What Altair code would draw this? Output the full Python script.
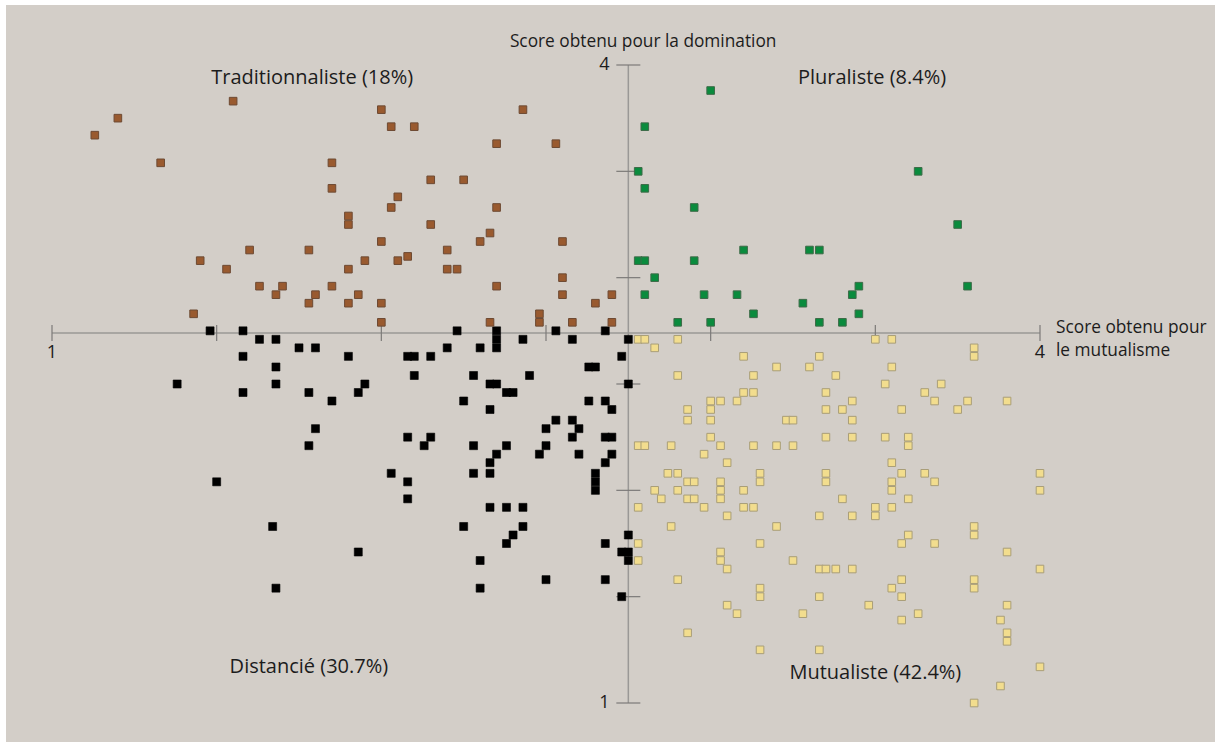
import altair as alt
import pandas as pd

# Scores (mutualisme, domination) per respondent, grouped by profile
trad_x = [1.55, 1.20, 1.13, 2.00, 2.03, 2.10, 1.33, 1.85, 1.85, 2.05, 2.03, 1.90, 1.90, 2.00,
          1.60, 1.78, 1.45, 1.95, 2.05, 2.08, 1.53, 1.90, 1.63, 1.70, 1.85, 1.68, 1.80, 1.93,
          1.78, 1.90, 2.00, 1.43, 2.00, 2.43, 2.35, 2.53, 2.15, 2.25, 2.35, 2.15, 2.33, 2.30,
          2.55, 2.20, 2.20, 2.23, 2.55, 2.35, 2.55, 2.70, 2.65, 2.48, 2.48, 2.33, 2.58, 2.70]
trad_y = [3.83, 3.75, 3.67, 3.79, 3.71, 3.71, 3.54, 3.54, 3.42, 3.38, 3.33, 3.29, 3.25, 3.17,
          3.13, 3.13, 3.08, 3.08, 3.08, 3.10, 3.04, 3.04, 2.96, 2.96, 2.96, 2.92, 2.92, 2.92,
          2.88, 2.88, 2.88, 2.83, 2.79, 3.79, 3.63, 3.63, 3.46, 3.46, 3.33, 3.25, 3.21, 3.17,
          3.17, 3.13, 3.04, 3.04, 3.00, 2.96, 2.92, 2.92, 2.88, 2.83, 2.79, 2.79, 2.79, 2.79]

plur_x = [3.00, 2.80, 2.78, 2.80, 2.95, 3.10, 3.30, 3.33, 2.78, 2.80, 2.95, 2.83, 2.80, 2.98,
          3.08, 3.28, 3.13, 2.90, 3.00, 3.33, 3.63, 3.75, 3.45, 3.43, 3.78, 3.45, 3.40]
plur_y = [3.88, 3.71, 3.50, 3.42, 3.33, 3.13, 3.13, 3.13, 3.08, 3.08, 3.08, 3.00, 2.92, 2.92,
          2.92, 2.88, 2.83, 2.79, 2.79, 2.79, 3.50, 3.25, 2.96, 2.92, 2.96, 2.83, 2.79]

dist_x = [1.48, 1.58, 1.63, 1.68, 1.75, 1.80, 1.58, 1.90, 2.08, 2.10, 1.68, 2.10, 1.38, 1.68,
          1.95, 1.58, 1.78, 1.93, 1.85, 1.80, 1.78, 2.08, 2.03, 2.08, 2.08, 1.50, 1.67, 1.93,
          1.68, 2.23, 2.35, 2.35, 2.35, 2.53, 2.68, 2.43, 2.58, 2.75, 2.20, 2.30, 2.15, 2.73,
          2.63, 2.65, 2.28, 2.45, 2.33, 2.35, 2.75, 2.38, 2.40, 2.25, 2.63, 2.68, 2.33, 2.70,
          2.53, 2.58, 2.50, 2.60, 2.15, 2.58, 2.68, 2.70, 2.13, 2.28, 2.38, 2.50, 2.35, 2.48,
          2.60, 2.70, 2.33, 2.68, 2.28, 2.33, 2.65, 2.65, 2.65, 2.33, 2.38, 2.43, 2.25, 2.43,
          2.75, 2.40, 2.38, 2.68, 2.73, 2.75, 2.75, 2.30, 2.50, 2.68, 2.30, 2.73]
dist_y = [2.75, 2.75, 2.71, 2.71, 2.67, 2.67, 2.63, 2.63, 2.63, 2.63, 2.58, 2.54, 2.50, 2.50,
          2.50, 2.46, 2.46, 2.46, 2.42, 2.29, 2.21, 2.25, 2.08, 2.04, 1.96, 2.04, 1.83, 1.71,
          1.54, 2.75, 2.75, 2.71, 2.67, 2.75, 2.75, 2.71, 2.71, 2.71, 2.67, 2.67, 2.63, 2.63,
          2.58, 2.58, 2.54, 2.54, 2.50, 2.50, 2.50, 2.46, 2.46, 2.42, 2.42, 2.42, 2.38, 2.38,
          2.33, 2.33, 2.29, 2.29, 2.25, 2.25, 2.25, 2.25, 2.21, 2.21, 2.21, 2.21, 2.17, 2.17,
          2.17, 2.17, 2.13, 2.13, 2.08, 2.08, 2.08, 2.04, 2.00, 1.92, 1.92, 1.92, 1.83, 1.83,
          1.79, 1.79, 1.75, 1.75, 1.71, 1.71, 1.67, 1.67, 1.58, 1.58, 1.54, 1.50]

mutu_x = [2.78, 2.80, 2.90, 2.83, 3.10, 3.33, 3.20, 3.30, 2.90, 3.13, 3.10, 3.13, 3.00, 3.03,
          3.08, 2.93, 3.00, 2.93, 3.00, 3.23, 3.25, 3.00, 2.78, 2.80, 2.88, 3.03, 3.13, 3.20,
          3.25, 2.98, 3.05, 2.87, 2.90, 3.15, 3.15, 2.93, 2.95, 3.03, 2.83, 2.90, 3.03, 3.10,
          2.85, 2.93, 2.95, 3.03, 2.78, 2.98, 3.10, 3.13, 3.05, 3.33, 2.88, 3.20, 2.78, 3.15,
          3.03, 3.03, 2.78, 3.25, 3.05, 3.33, 2.90, 3.15, 3.15, 3.33, 3.05, 3.08, 3.28, 2.93,
          3.15, 3.33, 3.50, 3.55, 3.80, 3.80, 3.55, 3.38, 3.53, 3.70, 3.35, 3.65, 3.43, 3.68,
          3.78, 3.90, 3.35, 3.40, 3.58, 3.75, 3.43, 3.35, 3.43, 3.53, 3.60, 3.60, 3.55, 3.35,
          3.35, 3.58, 3.65, 3.68, 3.55, 3.55, 4.00, 4.00, 3.40, 3.60, 3.50, 3.50, 3.55, 3.43,
          3.80, 3.80, 3.60, 3.58, 3.68, 3.90, 3.35, 3.38, 3.43, 4.00, 3.58, 3.80, 3.80, 3.55,
          3.58, 3.48, 3.90, 3.63, 3.58, 3.88, 3.90, 3.90, 4.00, 3.88, 3.80]
mutu_y = [2.71, 2.71, 2.71, 2.67, 2.63, 2.63, 2.58, 2.58, 2.54, 2.54, 2.46, 2.46, 2.42, 2.42,
          2.42, 2.38, 2.38, 2.33, 2.33, 2.33, 2.33, 2.25, 2.21, 2.21, 2.21, 2.21, 2.21, 2.21,
          2.21, 2.17, 2.13, 2.08, 2.08, 2.08, 2.04, 2.04, 2.04, 2.04, 2.00, 2.00, 2.00, 2.00,
          1.96, 1.96, 1.96, 1.96, 1.92, 1.92, 1.92, 1.92, 1.88, 1.88, 1.83, 1.83, 1.75, 1.75,
          1.71, 1.67, 1.67, 1.67, 1.63, 1.63, 1.58, 1.54, 1.50, 1.50, 1.46, 1.42, 1.42, 1.33,
          1.25, 1.25, 2.71, 2.71, 2.67, 2.63, 2.58, 2.54, 2.50, 2.50, 2.46, 2.46, 2.42, 2.42,
          2.42, 2.42, 2.38, 2.38, 2.38, 2.38, 2.33, 2.25, 2.25, 2.25, 2.25, 2.21, 2.13, 2.08,
          2.04, 2.08, 2.08, 2.04, 2.04, 2.00, 2.08, 2.00, 1.96, 1.96, 1.92, 1.88, 1.92, 1.88,
          1.83, 1.79, 1.79, 1.75, 1.75, 1.71, 1.63, 1.63, 1.63, 1.63, 1.58, 1.58, 1.54, 1.54,
          1.50, 1.46, 1.46, 1.42, 1.39, 1.39, 1.33, 1.29, 1.17, 1.08, 1.00]

# Profile labels with their share of respondents
profile_names = ["Traditionnaliste (18%)", "Pluraliste (8.4%)",
                 "Distancié (30.7%)", "Mutualiste (42.4%)"]
profile_label_x = [1.79, 3.49, 1.78, 3.50]
profile_label_y = [3.94, 3.94, 1.17, 1.14]

# Axis geometry
axis_min, axis_max = 1, 4
cross_x, cross_y = 2.75, 2.74
tick_values = [1, 1.5, 2, 2.5, 3, 3.5, 4]

FONT = "Open Sans"
BG = "#d3cec8"
INK = "#1c1c1c"
AXIS_GREY = "#9a9896"
TICK_GREY = "#7c7a78"

xs = alt.Scale(domain=[axis_min, axis_max], nice=False, zero=False)
ys = alt.Scale(domain=[axis_min, axis_max], nice=False, zero=False)


def X(field):
    return alt.X(f"{field}:Q", scale=xs, axis=None)


def Y(field):
    return alt.Y(f"{field}:Q", scale=ys, axis=None)


W, H = 988, 638
PAD = {"left": 52, "top": 65, "right": 175, "bottom": 39}

# Beige panel behind everything (leaves a thin white margin top and left)
panel = alt.Chart(pd.DataFrame({"k": [0]})).mark_rect(color=BG).encode(
    x=alt.value(6 - PAD["left"]), x2=alt.value(W + PAD["right"]),
    y=alt.value(5 - PAD["top"]), y2=alt.value(H + PAD["bottom"]),
)

# Crossed axes
h_axis = alt.Chart(pd.DataFrame({"a": [axis_min], "b": [axis_max], "c": [cross_y]})).mark_rule(
    color=AXIS_GREY, strokeWidth=1.5).encode(x=X("a"), x2="b", y=Y("c"))
v_axis = alt.Chart(pd.DataFrame({"a": [cross_x], "b": [axis_min], "c": [axis_max]})).mark_rule(
    color=AXIS_GREY, strokeWidth=1.5).encode(x=X("a"), y=Y("b"), y2="c")

ticks_df = pd.DataFrame({"v": tick_values, "cx": cross_x, "cy": cross_y})
x_ticks = alt.Chart(ticks_df).mark_tick(
    orient="vertical", size=16, thickness=1.2, color=TICK_GREY, opacity=1).encode(
    x=X("v"), y=Y("cy"))
y_ticks = alt.Chart(ticks_df).mark_tick(
    orient="horizontal", size=24, thickness=1.2, color=TICK_GREY, opacity=1).encode(
    x=X("cx"), y=Y("v"))

# End labels of the axes
end_df = pd.DataFrame({"v": [axis_min, axis_max], "t": [str(axis_min), str(axis_max)],
                       "cx": cross_x, "cy": cross_y})
x_end = alt.Chart(end_df).mark_text(font=FONT, fontSize=18, color=INK, baseline="middle",
                                    dy=20).encode(x=X("v"), y=Y("cy"), text="t:N")
y_end = alt.Chart(end_df).mark_text(font=FONT, fontSize=18, color=INK, baseline="middle",
                                    dx=-24).encode(x=X("cx"), y=Y("v"), text="t:N")

# Axis titles
title_dom = alt.Chart(pd.DataFrame({"x": [2.795], "y": [4.106],
                                    "t": ["Score obtenu pour la domination"]})).mark_text(
    font=FONT, fontSize=17.3, color=INK, baseline="middle").encode(
    x=X("x"), y=Y("y"), text="t:N")

mut_df = pd.DataFrame({"x": [axis_max], "y": [cross_y],
                       "l1": ["Score obtenu pour"], "l2": ["le mutualisme"]})
title_mut_1 = alt.Chart(mut_df).mark_text(
    font=FONT, fontSize=17.3, color=INK, baseline="middle", align="left", dx=16, dy=-5).encode(
    x=X("x"), y=Y("y"), text="l1:N")
title_mut_2 = alt.Chart(mut_df).mark_text(
    font=FONT, fontSize=17.3, color=INK, baseline="middle", align="left", dx=16, dy=18).encode(
    x=X("x"), y=Y("y"), text="l2:N")


def squares(xv, yv, fill, stroke, size, sw):
    df = pd.DataFrame({"m": xv, "d": yv})
    return alt.Chart(df).mark_square(size=size, fill=fill, stroke=stroke, strokeWidth=sw,
                                     opacity=1).encode(x=X("m"), y=Y("d"))


pts_dist = squares(dist_x, dist_y, "#000000", "#000000", 64, 0.6)
pts_mutu = squares(mutu_x, mutu_y, "#f2dd8e", "#a99e78", 58, 1)
pts_plur = squares(plur_x, plur_y, "#0a8b3d", "#3d6b48", 58, 1)
pts_trad = squares(trad_x, trad_y, "#995a2f", "#6d4a33", 58, 1)

labels = alt.Chart(pd.DataFrame({"x": profile_label_x, "y": profile_label_y,
                                 "t": profile_names})).mark_text(
    font=FONT, fontSize=20, color=INK, baseline="middle").encode(
    x=X("x"), y=Y("y"), text="t:N")

chart = alt.layer(
    panel, h_axis, v_axis, x_ticks, y_ticks,
    pts_dist, pts_mutu, pts_plur, pts_trad,
    x_end, y_end, title_dom, title_mut_1, title_mut_2, labels,
).properties(
    width=W, height=H,
    autosize=alt.AutoSizeParams(type="none"),
    padding=PAD,
    background="white",
).configure_view(stroke=None)

chart.save("out.html", embed_options={"renderer": "svg", "actions": False})
